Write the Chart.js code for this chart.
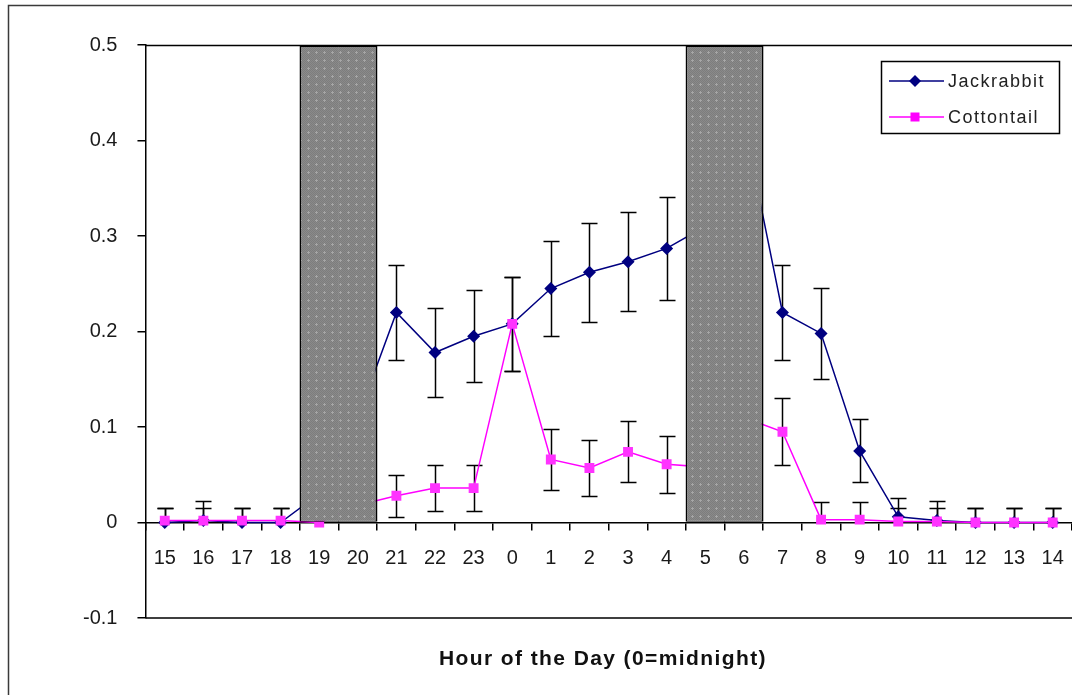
<!DOCTYPE html>
<html>
<head>
<meta charset="utf-8">
<script src="https://cdn.jsdelivr.net/npm/chart.js@4/dist/chart.umd.min.js"></script>
<style>
  html, body { margin: 0; padding: 0; background: #fff; overflow: hidden; }
  canvas { display: block; }
</style>
</head>
<body>
<canvas id="chart" width="1072" height="695" style="width:1072px;height:695px"></canvas>
<script>
// DATA
var hours = ['15','16','17','18','19','20','21','22','23','0','1','2','3','4','5','6','7','8','9','10','11','12','13','14'];
var jackrabbit = [0, 0.002, 0, 0, 0.03, 0.11, 0.22, 0.178, 0.195, 0.208, 0.245, 0.262, 0.273, 0.287, 0.31, 0.42, 0.22, 0.198, 0.075, 0.006, 0.002, 0, 0, 0];
var jackErr    = [0.015, 0.02, 0.015, 0.015, 0, 0, 0.05, 0.047, 0.048, 0.049, 0.05, 0.052, 0.052, 0.054, 0, 0, 0.05, 0.048, 0.033, 0.02, 0.02, 0.015, 0.015, 0.015];
var cottontail = [0.002, 0.002, 0.002, 0.002, 0, 0.018, 0.028, 0.036, 0.036, 0.208, 0.066, 0.057, 0.074, 0.061, 0.058, 0.11, 0.095, 0.003, 0.003, 0.001, 0.001, 0, 0, 0];
var cottonErr  = [0.013, 0.013, 0.013, 0.013, 0, 0, 0.022, 0.024, 0.024, 0.049, 0.032, 0.029, 0.032, 0.03, 0, 0, 0.035, 0.018, 0.018, 0.014, 0.014, 0.015, 0.015, 0.015];
var darkHours = ['19','20','5','6'];   // shaded night blocks
var shadeTop = 0.5;
var yTicks = [-0.1, 0, 0.1, 0.2, 0.3, 0.4, 0.5];
var xTitle = 'Hour of the Day (0=midnight)';

var shade = hours.map(function(h){ return darkHours.indexOf(h) >= 0 ? shadeTop : null; });

// grey dotted fill like the old excel pattern
function makePattern(){
  var c = document.createElement('canvas');
  c.width = 8; c.height = 8;
  var g = c.getContext('2d');
  g.fillStyle = '#8a8a8a';
  g.fillRect(0,0,8,8);
  g.fillStyle = '#7d7d7d';
  for (var i=0;i<8;i++) for (var j=0;j<8;j++) if ((i+j)%2==0) g.fillRect(i,j,1,1);
  g.fillStyle = '#a6a6a6';
  g.fillRect(3,4,3,1);
  g.fillRect(4,3,1,3);
  return g.createPattern(c, 'repeat');
}

function isShaded(i){ return i >= 0 && i < shade.length && shade[i] !== null; }

// error bars, the part below zero is not shown (like the original)
var errorBars = {
  id: 'errorBars',
  beforeDatasetsDraw: function(chart){
    var ctx = chart.ctx, y = chart.scales.y;
    var sets = [[1, jackErr], [2, cottonErr]];
    ctx.save();
    ctx.strokeStyle = '#000';
    ctx.lineWidth = 1.5;
    sets.forEach(function(s){
      var meta = chart.getDatasetMeta(s[0]);
      var vals = chart.data.datasets[s[0]].data;
      meta.data.forEach(function(pt, i){
        var e = s[1][i];
        if (!e || vals[i] === null) return;
        var lo = vals[i] - e;
        var y1 = Math.round(y.getPixelForValue(vals[i] + e)) + 0.5;
        var y2 = Math.round(y.getPixelForValue(Math.max(lo, 0))) + 0.5;
        var x = Math.round(pt.x) + 0.5;
        ctx.beginPath();
        ctx.moveTo(x, y1); ctx.lineTo(x, y2);
        ctx.moveTo(x - 8, y1); ctx.lineTo(x + 8, y1);
        if (lo > 0) { ctx.moveTo(x - 8, y2); ctx.lineTo(x + 8, y2); }
        ctx.stroke();
      });
    });
    ctx.restore();
  }
};

var frame = {
  id: 'frame',
  beforeDraw: function(chart){
    var ctx = chart.ctx;
    ctx.save();
    ctx.strokeStyle = '#3a3a3a';
    ctx.lineWidth = 1.5;
    ctx.strokeRect(8.5, 5.5, 1200, 1200);
    ctx.restore();
  },
  afterDraw: function(chart){
    var ctx = chart.ctx, a = chart.chartArea;
    ctx.save();
    ctx.strokeStyle = '#000';
    ctx.lineWidth = 1.5;
    ctx.beginPath();
    ctx.moveTo(a.left, a.top + 0.5); ctx.lineTo(a.right + 5, a.top + 0.5);
    ctx.moveTo(a.left, a.bottom); ctx.lineTo(a.right + 5, a.bottom);
    ctx.stroke();

    // axis title
    ctx.fillStyle = '#111';
    ctx.font = 'bold 21px "Liberation Sans", Arial, sans-serif';
    ctx.letterSpacing = '1.4px';
    ctx.textAlign = 'center';
    ctx.textBaseline = 'middle';
    ctx.fillText(xTitle, 603, 659);

    // legend
    ctx.letterSpacing = '1.5px';
    ctx.lineWidth = 1.5;
    ctx.strokeStyle = '#000';
    ctx.strokeRect(881.5, 61.5, 178, 72);
    ctx.font = '18px "Liberation Sans", Arial, sans-serif';
    ctx.textAlign = 'left';
    var rows = [[1, 81], [2, 117]];
    rows.forEach(function(r){
      var ds = chart.data.datasets[r[0]];
      ctx.strokeStyle = ds.borderColor;
      ctx.fillStyle = ds.borderColor;
      ctx.beginPath();
      ctx.moveTo(889, r[1]); ctx.lineTo(944, r[1]);
      ctx.stroke();
      ctx.beginPath();
      if (ds.pointStyle === 'rectRot') {
        ctx.moveTo(915, r[1] - 6); ctx.lineTo(921, r[1]); ctx.lineTo(915, r[1] + 6); ctx.lineTo(909, r[1]);
        ctx.closePath();
      } else {
        ctx.rect(910.5, r[1] - 4.5, 9, 9);
      }
      ctx.fill();
      ctx.fillStyle = '#222';
      ctx.fillText(ds.label, 948, r[1] + 1);
    });
    ctx.restore();
  }
};

var myChart = new Chart('chart', {
  data: {
    labels: hours,
    datasets: [
      {
        type: 'bar',
        label: 'night',
        data: shade,
        backgroundColor: makePattern(),
        borderColor: '#000',
        borderSkipped: false,
        borderWidth: function(c){
          var i = c.dataIndex;
          return { top: 2, bottom: 1, left: isShaded(i - 1) ? 0 : 1.5, right: isShaded(i + 1) ? 0 : 2 };
        },
        categoryPercentage: 1,
        barPercentage: 1.02,
        order: 1
      },
      {
        type: 'line',
        label: 'Jackrabbit',
        data: jackrabbit,
        borderColor: '#000080',
        backgroundColor: '#000080',
        borderWidth: 1.5,
        pointStyle: 'rectRot',
        pointRadius: 6.5,
        pointBorderWidth: 0,
        tension: 0,
        order: 3
      },
      {
        type: 'line',
        label: 'Cottontail',
        data: cottontail,
        borderColor: '#ff00ff',
        backgroundColor: '#ff33ff',
        borderWidth: 1.5,
        pointStyle: 'rect',
        pointRadius: 7,
        pointBorderWidth: 0,
        tension: 0,
        order: 2
      }
    ]
  },
  options: {
    responsive: false,
    animation: false,
    devicePixelRatio: 1,
    layout: { autoPadding: false, padding: { left: 63, top: 45, right: -2, bottom: 77 } },
    plugins: {
      legend: { display: false },
      tooltip: { enabled: false }
    },
    scales: {
      x: {
        position: { y: 0 },
        offset: true,
        afterFit: function(scale){
          // the tick padding should not squeeze the plot on the right
          scale.paddingLeft = 0;
          scale.paddingRight = 0;
        },
        grid: { offset: true, drawOnChartArea: false, tickLength: 7, color: '#000', lineWidth: 1.5 },
        border: { display: true, color: '#000', width: 1.5 },
        ticks: {
          color: '#1a1a1a',
          padding: 17,
          maxRotation: 0,
          autoSkip: false,
          font: { family: '"Liberation Sans", Arial, sans-serif', size: 20 }
        }
      },
      y: {
        min: -0.1,
        max: 0.5,
        afterBuildTicks: function(scale){
          scale.ticks = yTicks.map(function(v){ return { value: v }; });
        },
        grid: { drawOnChartArea: false, tickLength: 8, color: '#000', lineWidth: 1.5 },
        border: { display: true, color: '#000', width: 1.5 },
        ticks: {
          color: '#1a1a1a',
          padding: 20,
          font: { family: '"Liberation Sans", Arial, sans-serif', size: 20 },
          callback: function(v){ return String(Math.round(v * 10) / 10); }
        }
      }
    }
  },
  plugins: [errorBars, frame]
});
</script>
</body>
</html>
